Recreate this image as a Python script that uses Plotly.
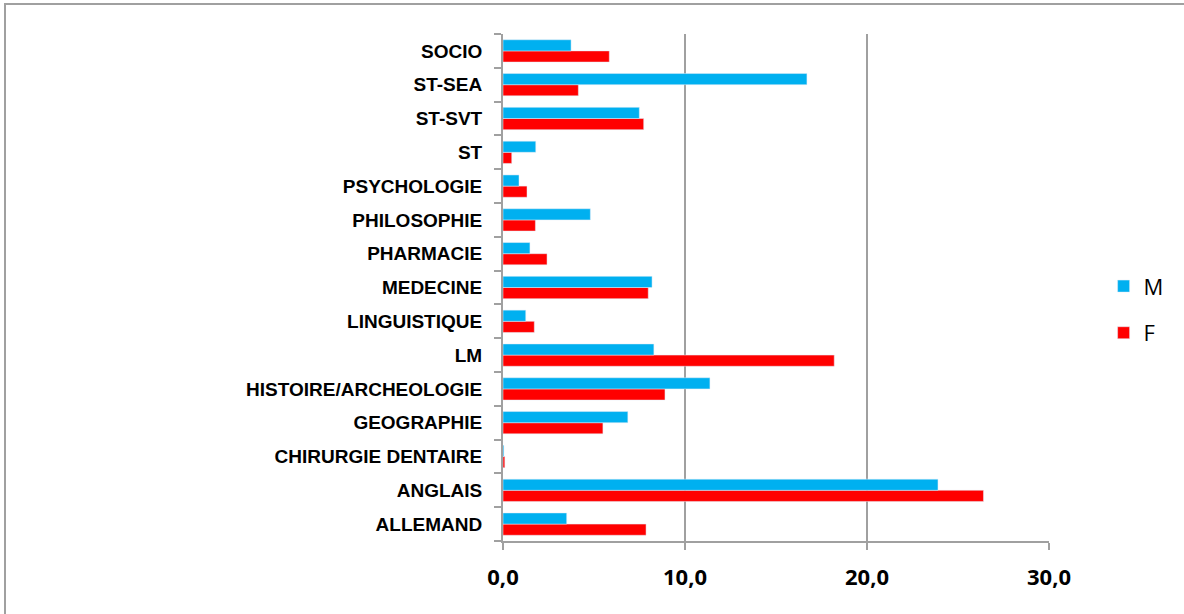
import plotly.graph_objects as go

categories = ["ALLEMAND", "ANGLAIS", "CHIRURGIE DENTAIRE", "GEOGRAPHIE",
              "HISTOIRE/ARCHEOLOGIE", "LM", "LINGUISTIQUE", "MEDECINE",
              "PHARMACIE", "PHILOSOPHIE", "PSYCHOLOGIE", "ST", "ST-SVT",
              "ST-SEA", "SOCIO"]
values_m = [3.5, 23.9, 0.05, 6.86, 11.37, 8.29, 1.25, 8.19,
            1.48, 4.8, 0.88, 1.8, 7.49, 16.7, 3.74]
values_f = [7.86, 26.4, 0.1, 5.49, 8.9, 18.2, 1.72, 7.98,
            2.42, 1.78, 1.32, 0.48, 7.73, 4.14, 5.84]
x_ticks = [0, 10, 20, 30]

W, H = 1184, 614
L, R, T, B = 503, 135, 34, 73
pw, ph = W - L - R, H - T - B

fig = go.Figure()
fig.add_trace(go.Bar(y=categories, x=values_f, name="F", orientation="h",
                     marker=dict(color="#FF0000"), legendgroup="f", legendrank=2))
fig.add_trace(go.Bar(y=categories, x=values_m, name="M", orientation="h",
                     marker=dict(color="#00B0F0"), legendgroup="m", legendrank=1))

fig.update_layout(
    width=W, height=H, autosize=False,
    margin=dict(l=L, r=R, t=T, b=B),
    paper_bgcolor="white", plot_bgcolor="white",
    barmode="group", bargap=0.34, bargroupgap=0,
    separators=",.",
    showlegend=True,
    legend=dict(traceorder="grouped", x=1.1, y=0.456, xanchor="left", yanchor="middle",
                font=dict(family="Open Sans", size=22, color="black"),
                tracegroupgap=15, itemwidth=30, bgcolor="rgba(0,0,0,0)"),
    xaxis=dict(range=[0, 30], tickvals=x_ticks, tickformat=".1f",
               showgrid=True, gridcolor="#A0A0A0", gridwidth=2,
               showline=True, linecolor="#A0A0A0", linewidth=2,
               ticks="outside", ticklen=7, tickcolor="#A0A0A0", tickwidth=2,
               ticklabelstandoff=9, zeroline=False, fixedrange=True,
               tickfont=dict(family="Open Sans", size=22, color="black", weight="bold")),
    yaxis=dict(type="category", showline=True, linecolor="#A0A0A0", linewidth=2,
               ticks="outside", ticklen=7, tickcolor="#A0A0A0", tickwidth=2,
               tickson="boundaries", showgrid=False, ticklabelstandoff=15,
               fixedrange=True,
               tickfont=dict(family="Liberation Sans", size=19, color="black", weight="bold")),
    shapes=[dict(type="rect", xref="paper", yref="paper",
                 x0=(5 - L) / pw, x1=(W + 20 - L) / pw,
                 y0=-(B + 20) / ph, y1=1 + (T - 4) / ph,
                 line=dict(color="#A0A0A0", width=2), layer="below")],
)

fig.write_html("out.html",
               config={"displayModeBar": False, "responsive": False},
               post_script="document.body.style.margin='0';document.body.style.overflow='hidden';")
